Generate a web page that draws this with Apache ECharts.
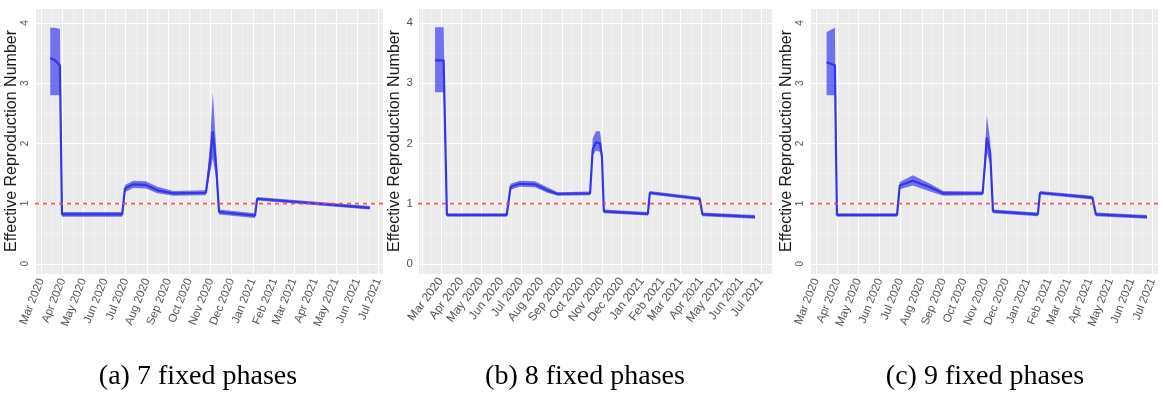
<!DOCTYPE html>
<html>
<head>
<meta charset="utf-8">
<script src="https://cdn.jsdelivr.net/npm/echarts@6/dist/echarts.min.js"></script>
<style>
html,body{margin:0;padding:0;background:#fff;}
#chart{width:1163px;height:400px;}
</style>
</head>
<body>
<div id="chart"></div>
<script>
// ---------- data ----------
const monthNames = ['Jan','Feb','Mar','Apr','May','Jun','Jul','Aug','Sep','Oct','Nov','Dec'];
const yTitle = 'Effective Reproduction Number';
const captions = ['(a) 7 fixed phases', '(b) 8 fixed phases', '(c) 9 fixed phases'];
const referenceR = 1;
const firstLabelDate = '2020-03-01';

// panel (a) 7 fixed phases
const datesA = ['2020-03-14','2020-03-21','2020-03-28','2020-03-31','2020-06-26','2020-06-30','2020-07-12','2020-07-30','2020-08-16','2020-09-08','2020-10-25','2020-10-31','2020-11-04','2020-11-09','2020-11-13','2021-01-04','2021-01-07','2021-06-19'];
const medA   = [3.42,3.38,3.30,0.82,0.82,1.25,1.32,1.31,1.22,1.17,1.18,1.70,2.20,1.60,0.86,0.80,1.08,0.93];
const loA    = [2.80,2.80,2.80,0.78,0.78,1.19,1.26,1.25,1.17,1.13,1.14,1.50,1.75,1.40,0.82,0.76,1.05,0.90];
const hiA    = [3.92,3.92,3.90,0.86,0.86,1.31,1.38,1.37,1.28,1.21,1.22,2.00,2.85,1.90,0.90,0.84,1.11,0.96];

// panel (b) 8 fixed phases
const datesB = ['2020-02-21','2020-03-05','2020-03-10','2020-06-09','2020-06-15','2020-06-29','2020-07-22','2020-08-10','2020-08-26','2020-10-14','2020-10-18','2020-10-23','2020-10-29','2020-11-01','2020-11-04','2021-01-10','2021-01-13','2021-03-30','2021-04-03','2021-06-22'];
const medB   = [3.38,3.38,0.81,0.81,1.28,1.33,1.32,1.22,1.16,1.17,1.90,2.02,2.00,1.80,0.87,0.83,1.18,1.08,0.82,0.78];
const loB    = [2.85,2.85,0.78,0.78,1.23,1.28,1.27,1.18,1.13,1.14,1.80,1.88,1.86,1.70,0.84,0.80,1.15,1.05,0.79,0.75];
const hiB    = [3.93,3.93,0.84,0.84,1.33,1.38,1.37,1.27,1.19,1.20,2.08,2.20,2.20,1.95,0.90,0.86,1.21,1.11,0.85,0.81];

// panel (c) 9 fixed phases
const datesC = ['2020-03-16','2020-03-28','2020-03-31','2020-06-26','2020-06-30','2020-07-19','2020-08-13','2020-09-01','2020-10-28','2020-11-01','2020-11-03','2020-11-08','2020-11-12','2021-01-16','2021-01-19','2021-04-05','2021-04-10','2021-06-23'];
const medC   = [3.35,3.30,0.81,0.81,1.30,1.38,1.27,1.17,1.17,1.75,2.10,1.85,0.87,0.82,1.18,1.10,0.82,0.78];
const loC    = [2.80,2.80,0.78,0.78,1.24,1.30,1.20,1.13,1.14,1.60,1.85,1.65,0.84,0.79,1.15,1.07,0.79,0.75];
const hiC    = [3.85,3.92,0.84,0.84,1.36,1.47,1.33,1.21,1.20,2.00,2.47,2.05,0.90,0.85,1.21,1.13,0.85,0.81];

// axis extents (ggplot expanded ranges)
const xRanges = [['2020-02-21','2021-07-08'], ['2020-01-26','2021-07-18'], ['2020-02-21','2021-07-09']];
const yRange = [-0.17, 4.25];

// ---------- layout ----------
const grids = [
  {left: 35,  top: 8, width: 348, height: 266},
  {left: 418, top: 8, width: 354, height: 266},
  {left: 810, top: 8, width: 348, height: 266}
];
const labelRotate = [68, 53, 68];
const labelSize = [11.5, 12, 11.5];
const yLabelRotate = [90, 0, 90];
const yLabelSize = [10, 11.5, 10];
const captionX = [198, 585, 985];

const panels = [
  {dates: datesA, med: medA, lo: loA, hi: hiA},
  {dates: datesB, med: medB, lo: loB, hi: hiB},
  {dates: datesC, med: medC, lo: loC, hi: hiC}
];

const firstLabelTime = echarts.time.parse(firstLabelDate).getTime();
const xAxes = [], yAxes = [], series = [];
panels.forEach((p, i) => {
  xAxes.push({
    type: 'time', gridIndex: i,
    min: xRanges[i][0], max: xRanges[i][1],
    splitNumber: 18,
    minInterval: 28 * 86400000, maxInterval: 31 * 86400000,
    axisLine: {show: false}, axisTick: {show: false},
    axisLabel: {
      rotate: labelRotate[i], fontSize: labelSize[i], color: '#555', margin: 5,
      showMinLabel: false, showMaxLabel: false,
      formatter: v => {
        if (v < firstLabelTime - 3600000) return '';
        const d = new Date(v); return monthNames[d.getMonth()] + ' ' + d.getFullYear();
      }
    },
    splitLine: {show: true, lineStyle: {color: '#ffffff', width: 1}},
    minorTick: {show: false, splitNumber: 2},
    minorSplitLine: {show: true, lineStyle: {color: '#f5f5f5', width: 0.6}}
  });
  yAxes.push({
    type: 'value', gridIndex: i, min: yRange[0], max: yRange[1], splitNumber: 5,
    name: yTitle, nameLocation: 'middle', nameGap: yLabelRotate[i] ? 13 : 14,
    nameTextStyle: {fontSize: 16, color: '#1a1a1a'},
    axisLine: {show: false}, axisTick: {show: false},
    axisLabel: {fontSize: yLabelSize[i], rotate: yLabelRotate[i], color: '#555', margin: 5,
                showMinLabel: false, showMaxLabel: false},
    splitLine: {show: true, lineStyle: {color: '#ffffff', width: 1}},
    minorTick: {show: false, splitNumber: 2},
    minorSplitLine: {show: true, lineStyle: {color: '#f5f5f5', width: 0.6}}
  });
  const loPairs = p.dates.map((d, k) => [d, p.lo[k]]);
  const spanPairs = p.dates.map((d, k) => [d, +(p.hi[k] - p.lo[k]).toFixed(3)]);
  const medPairs = p.dates.map((d, k) => [d, p.med[k]]);
  series.push({
    type: 'line', xAxisIndex: i, yAxisIndex: i, stack: 'band' + i,
    data: loPairs, symbol: 'none', lineStyle: {opacity: 0}, silent: true
  });
  series.push({
    type: 'line', xAxisIndex: i, yAxisIndex: i, stack: 'band' + i,
    data: spanPairs, symbol: 'none', lineStyle: {opacity: 0},
    areaStyle: {color: 'rgba(55,55,238,0.68)', opacity: 1}, silent: true
  });
  series.push({
    type: 'line', xAxisIndex: i, yAxisIndex: i,
    data: medPairs, symbol: 'none',
    lineStyle: {color: '#3535e6', width: 2.2}
  });
  // horizontal reference line at R = 1 across the whole panel
  series.push({
    type: 'line', xAxisIndex: i, yAxisIndex: i, silent: true, z: 5,
    data: [[xRanges[i][0], referenceR], [xRanges[i][1], referenceR]],
    symbol: 'none',
    lineStyle: {color: '#f24a3e', type: [4, 4], width: 1.6, opacity: 0.9}
  });
});

const chart = echarts.init(document.getElementById('chart'), null, {renderer: 'canvas'});
chart.setOption({
  animation: false,
  textStyle: {fontFamily: 'Liberation Sans'},
  grid: grids.map(g => Object.assign({show: true, backgroundColor: '#ebebeb', borderWidth: 0}, g)),
  xAxis: xAxes,
  yAxis: yAxes,
  series: series,
  graphic: captions.map((t, i) => ({
    type: 'text', x: captionX[i], y: 377,
    style: {text: t, font: '28px "Liberation Serif"', fill: '#000', textAlign: 'center', textVerticalAlign: 'middle'}
  }))
});
</script>
</body>
</html>
